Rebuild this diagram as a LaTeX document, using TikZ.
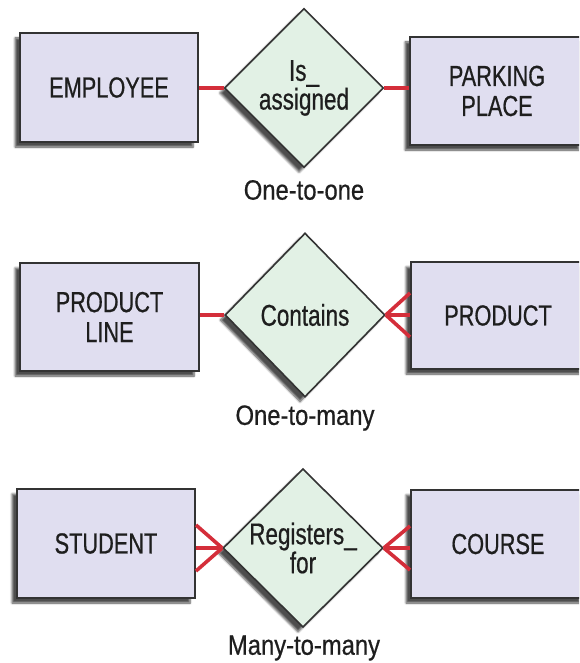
\documentclass[tikz,border=0pt]{standalone}
\usepackage{fontspec}
\setmainfont{Liberation Sans}[FakeStretch=0.75,FakeBold=0.6]
\newfontfamily\capfont{Liberation Sans}[FakeStretch=0.85,FakeBold=0.6]
\usetikzlibrary{shapes.geometric,shadows.blur}
\definecolor{entfill}{HTML}{E0DEF0}
\definecolor{relfill}{HTML}{E2F1E5}
\definecolor{borderc}{HTML}{333333}
\definecolor{linkred}{HTML}{D42E3A}
\definecolor{txtc}{HTML}{1E1E1E}
\tikzset{
  entity/.style={rectangle, draw=borderc, line width=2pt, fill=entfill, inner sep=0pt,
    align=center, text=txtc, font=\fontsize{29}{30}\selectfont,
    blur shadow={shadow xshift=-5pt, shadow yshift=-5pt, shadow blur steps=6, shadow opacity=70}},
  relation/.style={diamond, draw=borderc, line width=1.6pt, fill=relfill, inner sep=0pt,
    align=center, text=txtc, font=\fontsize{30}{26}\selectfont,
    blur shadow={shadow xshift=-5pt, shadow yshift=-5pt, shadow blur steps=6, shadow opacity=70}},
  caption/.style={text=txtc, font=\capfont\fontsize{28}{30}\selectfont, inner sep=0pt},
  link/.style={draw=linkred, line width=3.6pt}
}
\begin{document}
\begin{tikzpicture}[x=1pt,y=-1pt]
\useasboundingbox (0,0) rectangle (579,663);
\clip (0,0) rectangle (579,663);
% Row 1
\node[entity, minimum width=178pt, minimum height=109pt] (emp) at (109,87.5) {EMPLOYEE};
\node[entity, minimum width=174pt, minimum height=108pt] (pk) at (497,91) {PARKING\\PLACE};
\node[relation, minimum width=159pt, minimum height=159pt] (r1) at (304,88) {Is\_\\assigned};
\node[caption] (c1) at (304,190) {One-to-one};
\draw[link] (emp.east |- r1.west) -- (r1.west);
\draw[link] (r1.east) -- (r1.east -| pk.west);
% Row 2
\node[entity, minimum width=179pt, minimum height=108pt] (pl) at (109.5,317) {PRODUCT\\LINE};
\node[entity, minimum width=174pt, minimum height=107pt] (prod) at (498,315.5) {PRODUCT};
\node[relation, minimum width=160pt, minimum height=164pt] (r2) at (305,315) {Contains};
\node[caption] (c2) at (305,418) {One-to-many};
\draw[link] (pl.east |- r2.west) -- (r2.west);
\coordinate (p2m) at (r2.east -| prod.west);
\draw[link] (r2.east) -- (p2m);
\draw[link] (r2.east) -- ([yshift=-22pt]p2m);
\draw[link] (r2.east) -- ([yshift=22pt]p2m);
% Row 3
\node[entity, minimum width=178pt, minimum height=109pt] (st) at (106,543.5) {STUDENT};
\node[entity, minimum width=174pt, minimum height=108pt] (co) at (498,544) {COURSE};
\node[relation, minimum width=160pt, minimum height=157pt] (r3) at (303,548) {Registers\_\\for};
\node[caption] (c3) at (304,648) {Many-to-many};
\coordinate (s3m) at (r3.west -| st.east);
\draw[link] (r3.west) -- (s3m);
\draw[link] (r3.west) -- ([yshift=-23pt]s3m);
\draw[link] (r3.west) -- ([yshift=23pt]s3m);
\coordinate (c3m) at (r3.east -| co.west);
\draw[link] (r3.east) -- (c3m);
\draw[link] (r3.east) -- ([yshift=-22pt]c3m);
\draw[link] (r3.east) -- ([yshift=22pt]c3m);
\end{tikzpicture}
\end{document}
